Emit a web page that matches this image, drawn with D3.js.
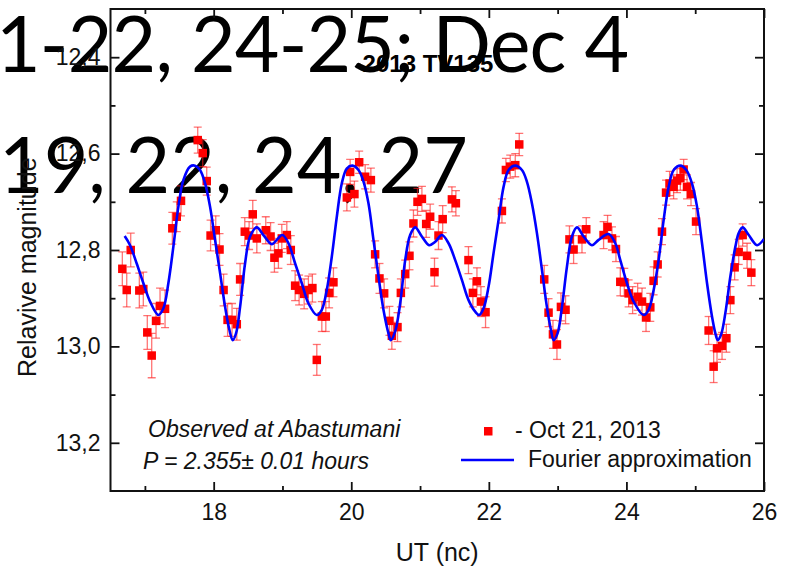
<!DOCTYPE html>
<html>
<head>
<meta charset="utf-8">
<script src="https://cdn.jsdelivr.net/npm/d3@7"></script>
<style>
  body { margin: 0; background: #fff; }
  svg { display: block; }
</style>
</head>
<body>
<svg id="chart" width="790" height="568"></svg>
<script>
// Photometry of 2013 TV135, Oct 21, 2013 (UT hours, relative magnitude, 1-sigma error)
const utHours = [16.672, 16.736, 16.794, 16.919, 16.977, 17.035, 17.099, 17.162, 17.220, 17.293,
  17.399, 17.463, 17.525, 17.768, 17.841, 17.899, 17.955, 18.030, 18.085, 18.144,
  18.202, 18.267, 18.336, 18.384, 18.452, 18.515, 18.568, 18.627, 18.757, 18.827,
  18.883, 18.941, 18.990, 19.063, 19.121, 19.184, 19.242, 19.315, 19.377, 19.435,
  19.499, 19.572, 19.630, 19.678, 19.741, 19.936, 19.984, 20.046, 20.115, 20.202,
  20.285, 20.347, 20.410, 20.478, 20.555, 20.590, 20.672, 20.721, 20.784, 20.846,
  20.904, 20.963, 21.027, 21.089, 21.147, 21.210, 21.268, 21.329, 21.463, 21.521,
  21.704, 21.768, 21.827, 21.885, 21.952, 22.190, 22.248, 22.311, 22.384, 22.442,
  22.805, 22.868, 22.932, 22.990, 23.048, 23.115, 23.172, 23.232, 23.354, 23.416,
  23.668, 23.726, 23.790, 23.848, 23.911, 23.969, 24.032, 24.090, 24.163, 24.227,
  24.285, 24.347, 24.395, 24.454, 24.517, 24.576, 24.628, 24.686, 24.736, 24.784,
  24.832, 24.881, 24.939, 25.012, 25.195, 25.268, 25.317, 25.390, 25.453, 25.511,
  25.573, 25.632, 25.690, 25.754, 25.816];

const relMag = [12.839, 12.883, 12.800, 12.884, 12.881, 12.971, 13.019, 12.947, 12.916, 12.922,
  12.755, 12.731, 12.698, 12.572, 12.599, 12.657, 12.770, 12.759, 12.799, 12.883,
  12.945, 12.945, 12.954, 12.861, 12.762, 12.770, 12.726, 12.776, 12.759, 12.772,
  12.816, 12.807, 12.776, 12.769, 12.800, 12.874, 12.883, 12.891, 12.883, 12.879,
  13.028, 12.938, 12.938, 12.889, 12.867, 12.691, 12.638, 12.684, 12.618, 12.648,
  12.655, 12.809, 12.859, 12.890, 12.947, 12.978, 12.960, 12.889, 12.850, 12.812,
  12.745, 12.700, 12.694, 12.746, 12.731, 12.846, 12.770, 12.736, 12.695, 12.703,
  12.821, 12.889, 12.865, 12.907, 12.929, 12.719, 12.634, 12.627, 12.624, 12.581,
  12.861, 12.930, 12.975, 12.996, 12.918, 12.924, 12.778, 12.799, 12.778, 12.757,
  12.769, 12.752, 12.776, 12.798, 12.866, 12.867, 12.890, 12.904, 12.897, 12.907,
  12.940, 12.919, 12.864, 12.830, 12.762, 12.681, 12.662, 12.669, 12.656, 12.651,
  12.633, 12.669, 12.684, 12.741, 12.967, 13.042, 13.004, 12.999, 12.983, 12.904,
  12.836, 12.804, 12.769, 12.812, 12.847];

const magErr = [0.035, 0.035, 0.035, 0.036, 0.035, 0.035, 0.046, 0.036, 0.037, 0.039,
  0.033, 0.031, 0.031, 0.027, 0.028, 0.029, 0.032, 0.030, 0.033, 0.033,
  0.034, 0.034, 0.033, 0.033, 0.029, 0.029, 0.029, 0.030, 0.028, 0.029,
  0.030, 0.031, 0.029, 0.028, 0.030, 0.031, 0.031, 0.031, 0.029, 0.029,
  0.032, 0.031, 0.031, 0.031, 0.030, 0.028, 0.026, 0.027, 0.023, 0.025,
  0.025, 0.028, 0.031, 0.030, 0.030, 0.028, 0.030, 0.029, 0.029, 0.029,
  0.028, 0.028, 0.026, 0.028, 0.026, 0.029, 0.029, 0.028, 0.026, 0.026,
  0.028, 0.029, 0.028, 0.031, 0.032, 0.025, 0.024, 0.024, 0.024, 0.023,
  0.029, 0.029, 0.029, 0.031, 0.029, 0.029, 0.028, 0.029, 0.028, 0.024,
  0.028, 0.024, 0.024, 0.026, 0.029, 0.029, 0.028, 0.028, 0.028, 0.028,
  0.029, 0.029, 0.029, 0.026, 0.027, 0.026, 0.025, 0.025, 0.025, 0.025,
  0.021, 0.025, 0.024, 0.027, 0.029, 0.033, 0.029, 0.028, 0.029, 0.028,
  0.026, 0.026, 0.023, 0.026, 0.027];

// Fourier approximation of the light curve (P = 2.355 h), sampled along UT
const fitUT = [16.706, 16.784, 16.881, 16.978, 17.075, 17.196, 17.269, 17.341, 17.414, 17.487,
  17.559, 17.656, 17.729, 17.802, 17.875, 17.947, 18.020, 18.093, 18.166, 18.229,
  18.277, 18.325, 18.384, 18.456, 18.529, 18.626, 18.723, 18.844, 18.917,
  18.999, 19.087, 19.184, 19.281, 19.378, 19.499, 19.572, 19.644, 19.717, 19.790,
  19.862, 19.935, 20.018, 20.105, 20.178, 20.250, 20.323, 20.396, 20.468, 20.541,
  20.575, 20.638, 20.711, 20.784, 20.856, 20.929, 21.026, 21.133, 21.220, 21.317,
  21.414, 21.511, 21.608, 21.705, 21.802, 21.860, 21.923, 21.996, 22.068, 22.141,
  22.214, 22.287, 22.384, 22.481, 22.553, 22.626, 22.699, 22.772, 22.844, 22.903,
  22.941, 22.999, 23.063, 23.135, 23.208, 23.281, 23.378, 23.499, 23.596, 23.740,
  23.838, 23.911, 24.008, 24.105, 24.250, 24.323, 24.396, 24.468, 24.541, 24.614,
  24.687, 24.784, 24.871, 24.953, 25.026, 25.099, 25.172, 25.244, 25.293, 25.327,
  25.375, 25.438, 25.511, 25.584, 25.632, 25.690, 25.778, 25.899, 26.000];

const fitMag = [12.771, 12.790, 12.828, 12.869, 12.907, 12.935, 12.921, 12.869, 12.793, 12.710,
  12.655, 12.627, 12.625, 12.634, 12.662, 12.710, 12.779, 12.848, 12.918, 12.966,
  12.987, 12.973, 12.918, 12.828, 12.772, 12.753, 12.769, 12.788, 12.779,
  12.769, 12.786, 12.828, 12.869, 12.911, 12.935, 12.924, 12.883, 12.814, 12.731,
  12.662, 12.631, 12.625, 12.634, 12.658, 12.703, 12.779, 12.855, 12.924, 12.973,
  12.987, 12.969, 12.911, 12.821, 12.769, 12.753, 12.772, 12.790, 12.783, 12.769,
  12.786, 12.821, 12.862, 12.904, 12.928, 12.935, 12.921, 12.876, 12.807, 12.738,
  12.669, 12.634, 12.625, 12.634, 12.658, 12.703, 12.765, 12.841, 12.918, 12.966,
  12.987, 12.973, 12.918, 12.835, 12.772, 12.753, 12.772, 12.790, 12.779, 12.767,
  12.786, 12.821, 12.869, 12.907, 12.935, 12.924, 12.883, 12.821, 12.738, 12.669,
  12.634, 12.625, 12.634, 12.662, 12.710, 12.786, 12.869, 12.938, 12.973, 12.987,
  12.976, 12.931, 12.855, 12.793, 12.765, 12.753, 12.769, 12.790, 12.777];

// Axis ticks
const xDomain = [16.5, 26];
const yDomain = [12.3, 13.3];
const xMajorTicks = [18, 20, 22, 24, 26];
const xMinorTicks = [17, 19, 21, 23, 25];
const yMajorTicks = [12.4, 12.6, 12.8, 13.0, 13.2];
const yMinorTicks = [12.5, 12.7, 12.9, 13.1];

// Text
const chartTitle = "2013 TV135";
const xTitle = "UT (nc)";
const yTitle = "Relavive magnitude";
const noteLines = ["Observed at Abastumani", "P = 2.355\u00B1 0.01 hours"];
const seriesLabel = "- Oct 21, 2013";
const fitLabel = "Fourier approximation";
const dateLines = ["1-22, 24-25; Dec 4", "19, 22, 24, 27"];

const svg = d3.select("#chart");
const sansFont = "'Liberation Sans', Arial, sans-serif";

const plot = { left: 110.5, right: 764, top: 9, bottom: 491 };
const x = d3.scaleLinear().domain(xDomain).range([plot.left, plot.right]);
const y = d3.scaleLinear().domain(yDomain).range([plot.top, plot.bottom]);

// Large date annotation behind the plot
const dateText = svg.append("g")
  .attr("font-family", "Lato, 'Open Sans', sans-serif")
  .attr("font-size", 77)
  .attr("fill", "#000");
dateText.append("text").attr("x", -4).attr("y", 72)
  .attr("letter-spacing", -0.8).text(dateLines[0]);
dateText.append("text").attr("x", -1).attr("y", 193).text(dateLines[1]);

// Title
svg.append("text")
  .attr("x", 428).attr("y", 72)
  .attr("text-anchor", "middle")
  .attr("font-family", sansFont)
  .attr("font-weight", "bold")
  .attr("font-size", 24)
  .text(chartTitle);

// Axes with inward ticks
const decComma = d => d3.format(".1f")(d).replace(".", ",");
function styleAxis(g) {
  g.select(".domain").remove();
  g.selectAll(".tick line").attr("stroke", "#111").attr("stroke-width", 1.8);
  g.selectAll(".tick text").attr("font-family", sansFont).attr("font-size", 23).attr("fill", "#111");
}
const axes = svg.append("g");
axes.append("g").attr("transform", `translate(0,${plot.bottom})`)
  .call(d3.axisBottom(x).tickValues(xMajorTicks).tickSizeInner(-9).tickSizeOuter(0).tickPadding(13).tickFormat(d3.format("d")))
  .call(styleAxis);
axes.append("g").attr("transform", `translate(0,${plot.bottom})`)
  .call(d3.axisBottom(x).tickValues(xMinorTicks).tickSizeInner(-5).tickSizeOuter(0).tickFormat(""))
  .call(styleAxis);
axes.append("g").attr("transform", `translate(0,${plot.top})`)
  .call(d3.axisTop(x).tickValues(xMajorTicks).tickSizeInner(-9).tickSizeOuter(0).tickFormat(""))
  .call(styleAxis);
axes.append("g").attr("transform", `translate(0,${plot.top})`)
  .call(d3.axisTop(x).tickValues(xMinorTicks).tickSizeInner(-5).tickSizeOuter(0).tickFormat(""))
  .call(styleAxis);
axes.append("g").attr("transform", `translate(${plot.left},0)`)
  .call(d3.axisLeft(y).tickValues(yMajorTicks).tickSizeInner(-9).tickSizeOuter(0).tickPadding(10).tickFormat(decComma))
  .call(styleAxis);
axes.append("g").attr("transform", `translate(${plot.left},0)`)
  .call(d3.axisLeft(y).tickValues(yMinorTicks).tickSizeInner(-5).tickSizeOuter(0).tickFormat(""))
  .call(styleAxis);
axes.append("g").attr("transform", `translate(${plot.right},0)`)
  .call(d3.axisRight(y).tickValues(yMajorTicks).tickSizeInner(-9).tickSizeOuter(0).tickFormat(""))
  .call(styleAxis);
axes.append("g").attr("transform", `translate(${plot.right},0)`)
  .call(d3.axisRight(y).tickValues(yMinorTicks).tickSizeInner(-5).tickSizeOuter(0).tickFormat(""))
  .call(styleAxis);

// Frame
svg.append("rect")
  .attr("x", x(xDomain[0])).attr("y", y(yDomain[0]))
  .attr("width", x(xDomain[1]) - x(xDomain[0]))
  .attr("height", y(yDomain[1]) - y(yDomain[0]))
  .attr("fill", "none").attr("stroke", "#111").attr("stroke-width", 2);

// Axis titles
svg.append("text")
  .attr("x", x(21.25)).attr("y", 561)
  .attr("text-anchor", "middle")
  .attr("font-family", sansFont).attr("font-size", 25).attr("fill", "#111")
  .text(xTitle);
svg.append("text")
  .attr("transform", "translate(36,377) rotate(-90)")
  .attr("font-family", sansFont).attr("font-size", 25).attr("fill", "#111")
  .text(yTitle);

// Observations with error bars
svg.append("clipPath").attr("id", "plotClip")
  .append("rect")
  .attr("x", plot.left).attr("y", plot.top)
  .attr("width", plot.right - plot.left).attr("height", plot.bottom - plot.top);

const points = utHours.map((t, i) => ({ t, m: relMag[i], e: magErr[i] }));
const dataLayer = svg.append("g").attr("clip-path", "url(#plotClip)");
const capHalf = 4;
const errColor = "rgba(255,30,30,0.62)";
const bars = dataLayer.append("g").attr("stroke", errColor).attr("stroke-width", 1.3);
bars.selectAll("line.stem").data(points).join("line").attr("class", "stem")
  .attr("x1", d => x(d.t)).attr("x2", d => x(d.t))
  .attr("y1", d => y(d.m - d.e)).attr("y2", d => y(d.m + d.e));
bars.selectAll("line.capTop").data(points).join("line").attr("class", "capTop")
  .attr("x1", d => x(d.t) - capHalf).attr("x2", d => x(d.t) + capHalf)
  .attr("y1", d => y(d.m - d.e)).attr("y2", d => y(d.m - d.e));
bars.selectAll("line.capBot").data(points).join("line").attr("class", "capBot")
  .attr("x1", d => x(d.t) - capHalf).attr("x2", d => x(d.t) + capHalf)
  .attr("y1", d => y(d.m + d.e)).attr("y2", d => y(d.m + d.e));

const sq = 8.5;
dataLayer.append("g").selectAll("rect").data(points).join("rect")
  .attr("x", d => x(d.t) - sq / 2).attr("y", d => y(d.m) - sq / 2)
  .attr("width", sq).attr("height", sq)
  .attr("fill", "#ff0000");

// Fourier approximation curve
const fit = fitUT.map((t, i) => [t, fitMag[i]]);
dataLayer.append("path")
  .datum(fit)
  .attr("fill", "none").attr("stroke", "#0000ff").attr("stroke-width", 2.6)
  .attr("d", d3.line().x(d => x(d[0])).y(d => y(d[1])).curve(d3.curveCatmullRom.alpha(0.5)));

// Notes and legend
const notes = svg.append("g")
  .attr("font-family", sansFont).attr("font-size", 23).attr("font-style", "italic").attr("fill", "#111");
notes.append("text").attr("x", 148).attr("y", 437).text(noteLines[0]);
notes.append("text").attr("x", 143).attr("y", 469).text(noteLines[1]);

const legend = svg.append("g").attr("font-family", sansFont).attr("font-size", 23).attr("fill", "#111");
legend.append("rect").attr("x", 484).attr("y", 427).attr("width", 8.5).attr("height", 8.5).attr("fill", "#ff0000");
legend.append("text").attr("x", 515).attr("y", 438).text(seriesLabel);
legend.append("line").attr("x1", 461).attr("x2", 514).attr("y1", 460).attr("y2", 460)
  .attr("stroke", "#0000ff").attr("stroke-width", 2.5);
legend.append("text").attr("x", 528).attr("y", 467).text(fitLabel);
</script>
</body>
</html>
